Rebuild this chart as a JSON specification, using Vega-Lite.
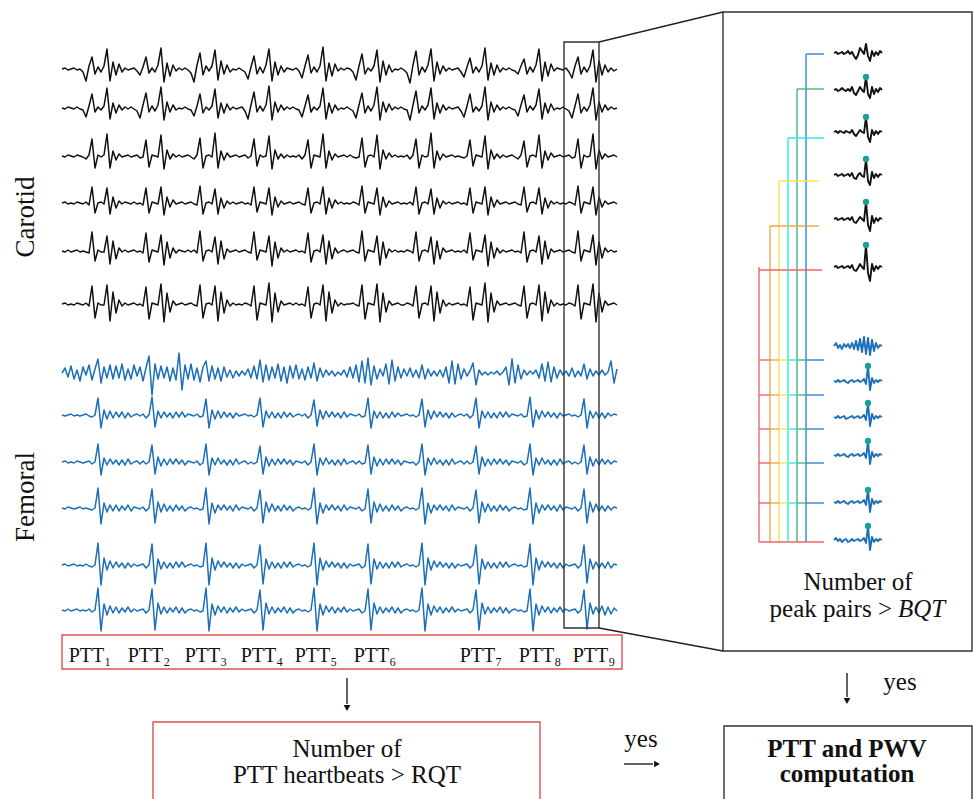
{
"$schema":"https://vega.github.io/schema/vega-lite/v6.json",
"width":973,"height":799,"padding":0,
"autosize":{"type":"fit","contains":"padding"},
"config":{"view":{"stroke":null},"font":"Liberation Serif"},
"resolve":{"scale":{"color":"independent"}},
"layer":[
{"data":{"values":[{"x":[62,65,68,71,74,77,80,83,86,89,92,95,98,101,104,107,110,113,116,119,122,125,128,131,134,137,140,143,146,149,152,155,158,161,164,167,170,173,176,179,182,185,188,191,194,197,200,203,206,209,212,215,218,221,224,227,230,233,236,239,242,245,248,251,254,257,260,263,266,269,272,275,278,281,284,287,290,293,296,299,302,305,308,311,314,317,320,323,326,329,332,335,338,341,344,347,350,353,356,359,362,365,368,371,374,377,380,383,386,389,392,395,398,401,404,407,410,413,416,419,422,425,428,431,434,437,440,443,446,449,452,455,458,461,464,467,470,473,476,479,482,485,488,491,494,497,500,503,506,509,512,515,518,521,524,527,530,533,536,539,542,545,548,551,554,557,560,563,566,569,572,575,578,581,584,587,590,593,596,599,602,605,608,611,614,617],
"c1":[69,68,70,69,68,70,69,72,81,66,57,74,67,72,66,49,81,62,75,64,72,68,70,69,68,71,75,67,57,73,68,72,65,48,82,63,76,65,71,68,70,68,70,73,82,65,53,75,66,71,66,50,80,61,74,65,72,69,70,68,70,72,79,67,56,74,67,73,65,49,81,62,75,66,72,68,69,70,68,71,78,66,55,73,67,72,66,47,81,63,76,64,71,68,70,68,69,72,80,66,54,74,68,71,66,50,82,61,75,65,72,69,70,68,70,73,83,65,51,75,67,72,65,49,81,62,74,66,71,68,70,69,68,72,77,67,58,73,67,72,66,48,80,63,75,65,72,68,70,68,70,71,74,66,59,74,67,72,65,49,81,62,76,64,71,68,69,70,68,72,78,66,57,74,67,72,66,50,82,61,75,65,72,68,71,69],
"c2":[108,109,107,108,109,107,109,110,117,106,94,112,107,110,106,88,119,103,113,105,110,107,109,107,109,111,118,105,93,112,106,111,105,87,120,102,112,105,110,108,109,107,109,110,116,106,94,113,107,110,106,89,118,103,113,104,110,107,109,108,107,111,119,105,92,112,106,111,105,86,120,102,112,105,110,107,109,107,109,110,117,106,95,112,107,110,106,88,119,103,113,105,110,108,109,107,109,111,118,105,93,113,106,111,105,87,120,102,112,104,110,107,109,107,109,110,120,105,91,113,106,110,105,88,119,103,113,105,110,107,109,108,107,111,117,106,94,112,107,111,106,87,120,102,112,105,110,107,109,107,109,110,116,105,95,112,106,110,105,89,119,103,113,104,110,108,109,107,109,111,118,106,94,113,107,111,105,88,120,102,112,105,110,107,109,108],
"c3":[156,157,155,156,157,155,156,157,159,155,139,168,155,157,155,134,168,151,160,154,157,156,155,157,156,155,158,157,140,167,155,156,157,135,169,150,159,154,157,155,157,156,155,157,159,155,138,168,156,155,157,133,168,151,160,153,157,156,155,157,156,155,158,156,139,166,155,157,156,136,169,150,159,154,158,155,157,156,157,155,159,155,140,168,155,156,157,134,168,151,160,154,157,156,155,157,155,157,158,157,138,167,156,155,157,135,169,150,159,153,157,155,157,156,157,155,159,155,139,168,155,157,156,133,168,151,160,154,157,156,155,157,156,157,158,156,140,166,155,156,157,136,169,150,159,154,158,155,157,156,155,157,159,155,141,167,156,155,157,135,168,151,160,153,157,156,155,157,156,155,158,157,139,168,155,157,156,134,169,150,159,154,157,156,155,157],
"c4":[203,202,204,203,204,202,203,204,202,205,187,213,203,202,204,188,214,197,208,201,204,202,203,204,202,204,203,205,188,213,202,203,204,187,215,197,207,200,204,203,202,204,203,202,204,205,186,214,203,202,204,189,214,198,208,201,204,202,204,203,202,204,203,205,187,212,202,203,204,188,215,197,207,201,204,203,202,204,203,202,204,205,188,213,203,202,204,187,214,198,208,200,204,202,204,203,204,202,203,205,186,213,202,203,204,188,215,197,207,201,204,203,202,204,203,204,202,205,187,214,203,202,204,189,214,198,208,201,204,202,204,203,202,204,203,205,188,213,202,203,204,187,215,197,207,200,204,203,202,204,203,202,204,205,187,212,203,202,204,188,214,198,208,201,204,202,204,203,204,202,203,205,186,213,202,203,204,187,215,197,207,201,204,203,202,204],
"c5":[251,252,250,252,251,250,252,251,252,253,232,261,250,252,252,236,264,241,259,248,252,250,252,251,250,252,251,253,233,262,250,251,252,235,265,242,258,248,253,250,251,252,250,252,250,253,231,261,251,250,252,237,264,241,259,249,252,251,250,252,251,250,252,253,232,260,250,251,252,236,266,242,258,248,252,250,252,251,250,252,251,253,233,262,251,250,252,235,264,241,259,248,253,251,250,252,251,250,252,253,231,261,250,251,252,236,265,242,258,249,252,250,252,251,252,250,251,253,232,261,251,250,252,237,264,241,259,248,252,251,250,252,251,252,250,253,233,260,250,251,252,235,266,242,258,248,253,250,252,251,250,252,251,253,232,262,251,250,252,236,264,241,259,249,252,251,250,252,251,250,252,253,231,261,250,251,252,235,265,242,258,248,252,250,252,251],
"c6":[304,303,305,304,305,303,304,305,303,306,286,318,303,305,305,285,321,292,313,300,306,303,305,304,303,305,304,306,287,319,303,304,305,284,322,293,312,301,305,304,303,305,304,303,305,306,285,318,304,303,305,286,321,292,313,300,306,303,305,304,305,303,304,306,286,320,303,304,305,283,322,293,312,301,305,304,303,305,303,305,304,306,287,318,304,303,305,285,321,292,313,300,306,303,305,304,304,303,305,306,285,319,303,304,305,284,322,293,312,301,305,304,303,305,305,303,304,306,286,318,304,303,305,286,321,292,313,300,306,303,305,304,303,305,304,306,287,320,303,304,305,283,322,293,312,301,305,304,303,305,304,303,305,306,286,318,304,303,305,285,321,292,313,300,306,303,305,304,305,303,304,306,285,319,303,304,305,284,322,293,312,301,305,304,303,305],
"f1":[373,368,377,366,379,370,381,367,375,365,380,369,359,383,367,378,365,379,366,378,364,380,369,379,365,376,367,381,368,356,395,364,379,366,378,367,381,368,380,353,390,365,379,364,380,368,382,367,361,381,366,379,368,381,367,377,370,378,371,376,371,375,369,378,366,379,360,382,365,380,367,378,364,381,367,383,366,378,365,379,369,380,367,378,363,381,368,377,370,375,371,376,372,375,370,377,367,378,365,382,361,383,358,385,366,379,369,376,364,384,360,381,367,378,369,376,368,377,370,378,365,379,369,376,371,376,370,377,367,383,361,384,364,379,369,376,371,363,385,370,375,372,375,372,374,371,375,372,367,385,359,383,365,379,370,375,371,374,370,378,364,381,362,382,367,378,370,375,371,376,368,377,371,376,364,379,369,376,371,375,370,375,372,361,383,369],
"f2":[415,416,415,414,416,415,416,415,414,416,417,415,398,428,410,419,411,418,412,417,412,418,413,417,415,414,416,414,418,415,397,427,411,418,412,417,413,418,412,417,412,417,414,415,416,414,417,416,399,428,410,419,411,418,412,417,413,418,413,416,415,414,416,415,417,415,398,427,411,418,412,418,413,418,412,417,413,417,415,414,416,414,418,415,400,426,410,419,411,417,412,417,413,418,412,417,414,415,416,414,417,416,398,428,411,418,412,418,413,418,412,417,413,416,415,414,416,415,417,415,399,427,410,419,411,417,412,417,413,418,413,417,415,414,416,414,418,415,398,428,411,418,412,418,413,418,412,417,412,417,414,415,416,414,417,416,397,427,410,419,411,417,412,417,413,418,413,416,415,414,416,415,417,415,399,428,411,418,412,418,413,418,413,416,414,415],
"f3":[462,461,463,462,463,461,462,463,462,461,464,462,444,475,458,465,459,464,460,465,460,465,459,464,462,461,464,461,464,462,445,474,457,466,459,465,459,464,459,464,460,465,461,462,463,461,465,463,444,475,458,465,458,464,460,465,460,465,459,464,462,461,464,462,464,462,446,474,457,466,459,465,459,464,459,464,460,465,461,462,463,461,465,462,444,475,458,465,458,464,460,465,460,465,459,464,462,461,464,461,464,463,445,474,457,466,459,465,459,464,459,464,460,465,461,462,463,462,465,462,444,475,458,465,458,464,460,465,460,465,459,464,462,461,464,461,464,462,446,474,457,466,459,465,459,464,459,464,460,465,461,462,463,461,465,463,444,475,458,465,458,464,460,465,460,465,459,464,462,461,464,462,464,462,445,474,457,466,459,465,459,464,460,464,461,462],
"f4":[508,509,507,508,509,508,507,509,508,509,510,508,488,524,503,512,505,511,505,511,506,510,505,511,507,508,509,507,511,508,489,523,502,512,504,511,506,511,505,510,506,511,508,507,509,508,510,509,488,524,503,513,505,510,505,510,506,511,505,510,507,508,509,507,511,508,490,523,502,512,504,511,506,511,505,510,506,511,508,507,509,508,510,508,488,524,503,513,505,510,505,510,506,511,505,510,507,508,509,507,511,509,489,523,502,512,504,511,506,511,505,510,506,511,508,507,509,508,510,508,488,524,503,513,505,510,505,510,506,511,505,510,507,508,509,507,511,508,490,523,502,512,504,511,506,511,505,510,506,511,508,507,509,508,510,509,488,524,503,513,505,510,505,510,506,511,505,510,507,508,509,507,511,508,489,523,502,512,504,511,506,511,506,510,507,508],
"f5":[565,564,566,565,564,566,565,566,564,566,567,565,543,585,558,570,561,568,562,567,563,568,563,567,564,566,565,564,568,565,544,584,559,569,562,568,563,568,562,567,562,567,565,564,566,565,567,566,543,585,558,570,561,567,562,567,563,568,563,568,564,566,565,564,568,565,545,584,559,569,562,568,563,568,562,567,562,567,565,564,566,565,567,565,543,585,558,570,561,567,562,567,563,568,563,568,564,566,565,564,568,566,544,584,559,569,562,568,563,568,562,567,562,567,565,564,566,565,567,565,543,585,558,570,561,567,562,567,563,568,563,568,564,566,565,564,568,565,545,584,559,569,562,568,563,568,562,567,562,567,565,564,566,565,567,566,544,585,558,570,561,567,562,567,563,568,563,568,564,566,565,564,568,565,545,583,559,569,562,568,563,568,562,568,564,565],
"f6":[610,611,609,611,610,609,611,610,611,609,612,610,588,631,604,615,606,613,607,613,608,612,607,612,609,611,610,609,613,610,589,630,603,614,607,613,608,612,607,613,608,613,610,609,611,610,612,611,588,631,604,615,606,612,607,613,608,612,607,612,609,611,610,609,613,610,590,630,603,614,607,613,608,612,607,613,608,613,610,609,611,610,612,610,588,631,604,615,606,612,607,613,608,612,607,612,609,611,610,609,613,611,589,630,603,614,607,613,608,612,607,613,608,613,610,609,611,610,612,610,588,631,604,615,606,612,607,613,608,612,607,612,609,611,610,609,613,610,590,630,603,614,607,613,608,612,607,613,608,613,610,609,611,610,612,611,589,631,604,615,606,612,607,613,608,612,607,612,609,611,610,609,613,610,590,629,603,614,607,613,606,615,607,614,608,611]}]},
"transform":[{"flatten":["x","c1","c2","c3","c4","c5","c6","f1","f2","f3","f4","f5","f6"]},{"fold":["c1","c2","c3","c4","c5","c6","f1","f2","f3","f4","f5","f6"],"as":["s","y"]}],
"mark":{"type":"line","strokeWidth":1.5,"strokeJoin":"round"},
"encoding":{
"x":{"field":"x","type":"quantitative","scale":{"domain":[0,973],"nice":false,"zero":false},"axis":null},
"y":{"field":"y","type":"quantitative","scale":{"domain":[0,799],"nice":false,"zero":false,"reverse":true},"axis":null},
"color":{"field":"s","type":"nominal","legend":null,"scale":{"domain":["c1","c2","c3","c4","c5","c6","f1","f2","f3","f4","f5","f6"],"range":["#111111","#111111","#111111","#111111","#111111","#111111","#1b6fb8","#1b6fb8","#1b6fb8","#1b6fb8","#1b6fb8","#1b6fb8"]}}}},
{"data":{"values":[{"x":[834,836,838,840,842,844,846,848,850,852,854,856,858,860,862,864,866,868,870,872,874,876,878,880,882],
"s1":[53,52,54,53,52,54,53,51,54,52,56,59,55,48,51,54,44,56,61,51,56,52,55,51,53],
"s2":[90,89,91,90,88,90,91,89,91,87,93,95,91,87,90,92,77,94,98,87,94,89,92,88,90],
"s3":[132,131,133,131,132,133,131,132,133,130,134,136,133,130,132,133,117,137,142,130,135,131,134,131,132],
"s4":[175,174,176,175,174,176,175,174,176,173,178,179,175,173,176,177,159,181,185,172,178,174,177,174,175],
"s5":[219,218,220,219,218,220,219,218,220,217,222,223,220,217,219,221,202,225,231,216,223,218,221,218,219],
"s6":[267,266,268,267,266,268,267,266,268,265,270,271,268,264,267,269,245,273,281,264,271,266,269,266,267],
"t1":[346,343,348,345,349,344,347,344,348,343,349,341,350,339,352,337,354,338,355,340,351,343,348,345,346],
"t2":[381,382,380,382,381,380,382,383,381,380,382,381,380,382,381,379,384,366,390,378,383,380,382,380,381],
"t3":[417,418,416,418,417,416,419,418,417,416,418,417,416,418,417,415,420,403,426,414,419,416,418,416,417],
"t4":[455,456,454,456,455,454,456,457,455,454,456,455,454,456,455,453,458,441,464,452,457,454,456,454,455],
"t5":[502,503,501,503,502,501,503,504,502,501,503,502,501,503,502,500,505,490,512,499,504,501,503,501,502],
"t6":[540,538,541,539,542,540,539,542,541,539,541,540,539,541,540,538,543,526,550,537,542,539,541,539,540]}]},
"transform":[{"flatten":["x","s1","s2","s3","s4","s5","s6","t1","t2","t3","t4","t5","t6"]},{"fold":["s1","s2","s3","s4","s5","s6","t1","t2","t3","t4","t5","t6"],"as":["s","y"]}],
"mark":{"type":"line","strokeWidth":1.9,"strokeJoin":"round"},
"encoding":{
"x":{"field":"x","type":"quantitative","scale":{"domain":[0,973],"nice":false,"zero":false},"axis":null},
"y":{"field":"y","type":"quantitative","scale":{"domain":[0,799],"nice":false,"zero":false,"reverse":true},"axis":null},
"color":{"field":"s","type":"nominal","legend":null,"scale":{"domain":["s1","s2","s3","s4","s5","s6","t1","t2","t3","t4","t5","t6"],"range":["#111111","#111111","#111111","#111111","#111111","#111111","#1b6fb8","#1b6fb8","#1b6fb8","#1b6fb8","#1b6fb8","#1b6fb8"]}}}},
{"data":{"values":[
{"x":62,"y":635,"x2":622,"y2":669,"k":"r"},
{"x":153,"y":722,"x2":540,"y2":806,"k":"r"},
{"x":724,"y":726,"x2":972,"y2":806,"k":"k"},
{"x":723,"y":12,"x2":972,"y2":651,"k":"k"},
{"x":564,"y":42,"x2":599,"y2":628,"k":"k"}]},
"mark":{"type":"rect","filled":false,"strokeWidth":1.4,"clip":true},
"encoding":{
"x":{"field":"x","type":"quantitative","scale":{"domain":[0,973],"nice":false,"zero":false},"axis":null},
"x2":{"field":"x2"},
"y":{"field":"y","type":"quantitative","scale":{"domain":[0,799],"nice":false,"zero":false,"reverse":true},"axis":null},
"y2":{"field":"y2"},
"color":{"field":"k","type":"nominal","legend":null,"scale":{"domain":["k","r"],"range":["#333333","#d9534f"]}}}},
{"data":{"values":[
{"x":599,"y":42,"x2":723,"y2":12,"k":"k"},
{"x":599,"y":628,"x2":723,"y2":651,"k":"k"},
{"x":347,"y":678,"x2":347,"y2":704,"k":"k"},
{"x":847,"y":673,"x2":847,"y2":697,"k":"k"},
{"x":624,"y":764,"x2":653,"y2":764,"k":"k"},
{"x":759,"y":267,"x2":759,"y2":542,"k":"r"},
{"x":770,"y":226,"x2":770,"y2":542,"k":"o"},
{"x":779,"y":181,"x2":779,"y2":542,"k":"y"},
{"x":788,"y":138,"x2":788,"y2":542,"k":"c"},
{"x":797,"y":89,"x2":797,"y2":542,"k":"g"},
{"x":806,"y":54,"x2":806,"y2":542,"k":"b"},
{"x":806,"y":54,"x2":824,"y2":54,"k":"b"},
{"x":797,"y":89,"x2":824,"y2":89,"k":"g"},
{"x":788,"y":138,"x2":824,"y2":138,"k":"c"},
{"x":779,"y":181,"x2":819,"y2":181,"k":"y"},
{"x":770,"y":226,"x2":819,"y2":226,"k":"o"},
{"x":759,"y":270,"x2":822,"y2":270,"k":"r"},
{"x":759,"y":360,"x2":770,"y2":360,"k":"r"},{"x":770,"y":360,"x2":779,"y2":360,"k":"o"},{"x":779,"y":360,"x2":788,"y2":360,"k":"y"},{"x":788,"y":360,"x2":797,"y2":360,"k":"c"},{"x":797,"y":360,"x2":806,"y2":360,"k":"g"},{"x":806,"y":360,"x2":824,"y2":360,"k":"b"},
{"x":759,"y":395,"x2":770,"y2":395,"k":"r"},{"x":770,"y":395,"x2":779,"y2":395,"k":"o"},{"x":779,"y":395,"x2":788,"y2":395,"k":"y"},{"x":788,"y":395,"x2":797,"y2":395,"k":"c"},{"x":797,"y":395,"x2":806,"y2":395,"k":"g"},{"x":806,"y":395,"x2":824,"y2":395,"k":"b"},
{"x":759,"y":429,"x2":770,"y2":429,"k":"r"},{"x":770,"y":429,"x2":779,"y2":429,"k":"o"},{"x":779,"y":429,"x2":788,"y2":429,"k":"y"},{"x":788,"y":429,"x2":797,"y2":429,"k":"c"},{"x":797,"y":429,"x2":806,"y2":429,"k":"g"},{"x":806,"y":429,"x2":824,"y2":429,"k":"b"},
{"x":759,"y":463,"x2":770,"y2":463,"k":"r"},{"x":770,"y":463,"x2":779,"y2":463,"k":"o"},{"x":779,"y":463,"x2":788,"y2":463,"k":"y"},{"x":788,"y":463,"x2":797,"y2":463,"k":"c"},{"x":797,"y":463,"x2":806,"y2":463,"k":"g"},{"x":806,"y":463,"x2":824,"y2":463,"k":"b"},
{"x":759,"y":503,"x2":770,"y2":503,"k":"r"},{"x":770,"y":503,"x2":779,"y2":503,"k":"o"},{"x":779,"y":503,"x2":788,"y2":503,"k":"y"},{"x":788,"y":503,"x2":797,"y2":503,"k":"c"},{"x":797,"y":503,"x2":806,"y2":503,"k":"g"},{"x":806,"y":503,"x2":824,"y2":503,"k":"b"},
{"x":759,"y":542,"x2":824,"y2":542,"k":"r"}]},
"mark":{"type":"rule","strokeWidth":1.4},
"encoding":{
"x":{"field":"x","type":"quantitative","scale":{"domain":[0,973],"nice":false,"zero":false},"axis":null},
"x2":{"field":"x2"},
"y":{"field":"y","type":"quantitative","scale":{"domain":[0,799],"nice":false,"zero":false,"reverse":true},"axis":null},
"y2":{"field":"y2"},
"color":{"field":"k","type":"nominal","legend":null,"scale":{"domain":["k","r","o","y","c","g","b"],"range":["#222222","#f26565","#f5a54c","#f7e452","#2ee8f0","#45b77a","#2f84d4"]}}}},
{"data":{"values":[{"x":347,"y":708,"d":"down"},{"x":847,"y":701,"d":"down"},{"x":657,"y":764,"d":"right"}]},
"mark":{"type":"point","filled":true,"size":45,"color":"#111111","opacity":1},
"encoding":{
"x":{"field":"x","type":"quantitative","scale":{"domain":[0,973],"nice":false,"zero":false},"axis":null},
"y":{"field":"y","type":"quantitative","scale":{"domain":[0,799],"nice":false,"zero":false,"reverse":true},"axis":null},
"shape":{"field":"d","type":"nominal","legend":null,"scale":{"domain":["down","right"],"range":["triangle-down","triangle-right"]}}}},
{"data":{"values":[{"x":866,"y":77},{"x":866,"y":117},{"x":866,"y":159},{"x":866,"y":202},{"x":866,"y":245},{"x":868,"y":366},{"x":868,"y":403},{"x":868,"y":441},{"x":868,"y":490},{"x":868,"y":526}]},
"mark":{"type":"point","filled":true,"size":40,"color":"#14a396","opacity":1},
"encoding":{
"x":{"field":"x","type":"quantitative","scale":{"domain":[0,973],"nice":false,"zero":false},"axis":null},
"y":{"field":"y","type":"quantitative","scale":{"domain":[0,799],"nice":false,"zero":false,"reverse":true},"axis":null}}},
{"data":{"values":[{"t":"Number of","x":347,"y":757},{"t":"PTT heartbeats > RQT","x":347,"y":783},{"t":"Number of","x":858,"y":590},{"t":"yes","x":641,"y":747},{"t":"yes","x":900,"y":690}]},
"mark":{"type":"text","fontSize":25,"align":"center","baseline":"alphabetic","color":"#111111","font":"Liberation Serif"},
"encoding":{
"x":{"field":"x","type":"quantitative","scale":{"domain":[0,973],"nice":false,"zero":false},"axis":null},
"y":{"field":"y","type":"quantitative","scale":{"domain":[0,799],"nice":false,"zero":false,"reverse":true},"axis":null},
"text":{"field":"t"}}},
{"data":{"values":[{"t":"peak pairs >","x":892,"y":617}]},
"mark":{"type":"text","fontSize":25,"align":"right","baseline":"alphabetic","color":"#111111","font":"Liberation Serif"},
"encoding":{
"x":{"field":"x","type":"quantitative","scale":{"domain":[0,973],"nice":false,"zero":false},"axis":null},
"y":{"field":"y","type":"quantitative","scale":{"domain":[0,799],"nice":false,"zero":false,"reverse":true},"axis":null},
"text":{"field":"t"}}},
{"data":{"values":[{"t":"BQT","x":898,"y":617}]},
"mark":{"type":"text","fontSize":25,"align":"left","baseline":"alphabetic","fontStyle":"italic","color":"#111111","font":"Liberation Serif"},
"encoding":{
"x":{"field":"x","type":"quantitative","scale":{"domain":[0,973],"nice":false,"zero":false},"axis":null},
"y":{"field":"y","type":"quantitative","scale":{"domain":[0,799],"nice":false,"zero":false,"reverse":true},"axis":null},
"text":{"field":"t"}}},
{"data":{"values":[{"t":"PTT and PWV","x":847,"y":757},{"t":"computation","x":847,"y":782}]},
"mark":{"type":"text","fontSize":25,"align":"center","baseline":"alphabetic","fontWeight":"bold","color":"#111111","font":"Liberation Serif"},
"encoding":{
"x":{"field":"x","type":"quantitative","scale":{"domain":[0,973],"nice":false,"zero":false},"axis":null},
"y":{"field":"y","type":"quantitative","scale":{"domain":[0,799],"nice":false,"zero":false,"reverse":true},"axis":null},
"text":{"field":"t"}}},
{"data":{"values":[{"t":"PTT₁","x":90},{"t":"PTT₂","x":149},{"t":"PTT₃","x":206},{"t":"PTT₄","x":262},{"t":"PTT₅","x":316},{"t":"PTT₆","x":375},{"t":"PTT₇","x":481},{"t":"PTT₈","x":540},{"t":"PTT₉","x":594}]},
"mark":{"type":"text","fontSize":20,"align":"center","baseline":"alphabetic","color":"#111111","font":"Liberation Serif","y":662},
"encoding":{
"x":{"field":"x","type":"quantitative","scale":{"domain":[0,973],"nice":false,"zero":false},"axis":null},
"text":{"field":"t"}}},
{"data":{"values":[{"t":"Carotid","x":26,"y":217},{"t":"Femoral","x":26,"y":497}]},
"mark":{"type":"text","fontSize":27,"align":"center","baseline":"middle","angle":270,"color":"#111111","font":"Liberation Serif"},
"encoding":{
"x":{"field":"x","type":"quantitative","scale":{"domain":[0,973],"nice":false,"zero":false},"axis":null},
"y":{"field":"y","type":"quantitative","scale":{"domain":[0,799],"nice":false,"zero":false,"reverse":true},"axis":null},
"text":{"field":"t"}}}
]
}
